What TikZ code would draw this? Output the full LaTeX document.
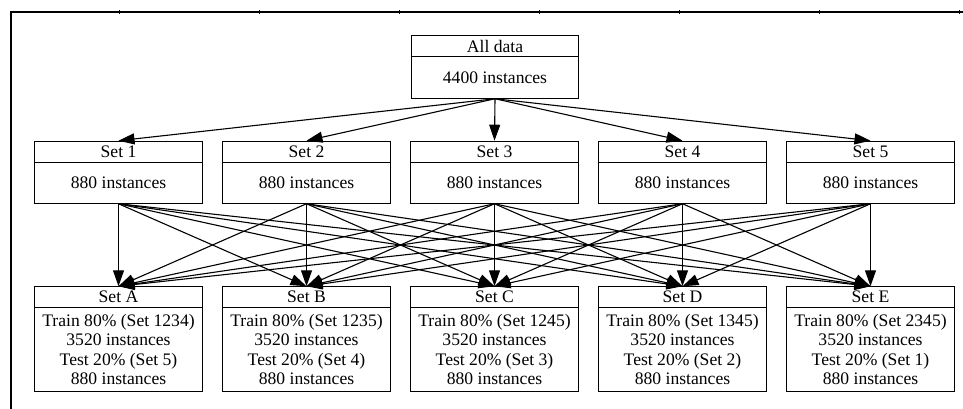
\documentclass[tikz,border=0pt]{standalone}
\usepackage{fontspec}
\newfontfamily\timesrm{Liberation Serif}
\usetikzlibrary{arrows.meta}
\tikzset{
  hdbox/.style={draw, line width=0.9pt, minimum width=168pt, minimum height=21pt,
    inner sep=0pt, font=\timesrm\fontsize{17.6}{19.5}\selectfont},
  bdbox/.style={hdbox, minimum height=41pt},
  splitbox/.style={hdbox, minimum height=84pt, align=center},
  link/.style={-{Triangle[length=16pt,width=11pt]}, line width=1.1pt}
}
\begin{document}
\begin{tikzpicture}[x=1pt,y=-1pt]
\useasboundingbox (0,0) rectangle (963,409);
% frame
\draw[line width=1.8pt] (11,409) -- (11,12) -- (963,12);
\foreach \t in {119,259,...,959}
  \draw[line width=0.5pt] (\t,10) -- (\t,14);
% all data
\node[hdbox, minimum width=167pt] (allh) at (495,46.2) {All data};
\node[bdbox, minimum width=167pt, minimum height=41.6pt] (allb) at (495,77.5) {4400 instances};
% five sets
\foreach \i/\x in {1/118.5, 2/306.5, 3/494.5, 4/682.5, 5/870.5} {
  \node[hdbox] (set\i h) at (\x,151.65) {Set \i};
  \node[bdbox] (set\i b) at (\x,182.8) {880 instances};
  \draw[link] (allb.south) -- (set\i h.north);
}
% train/test splits
\foreach \n/\x/\tr/\te in {A/118.5/1234/5, B/306.5/1235/4, C/494.5/1245/3,
    D/682.5/1345/2, E/870.5/2345/1} {
  \node[hdbox] (set\n h) at (\x,297.2) {Set \n};
  \node[splitbox] (set\n b) at (\x,349.7)
    {Train 80\% (Set \tr)\\3520 instances\\Test 20\% (Set \te)\\880 instances};
}
\foreach \i in {1,...,5}
  \foreach \n in {A,B,C,D,E}
    \draw[link] (set\i b.south) -- (set\n h.north);
\end{tikzpicture}
\end{document}
